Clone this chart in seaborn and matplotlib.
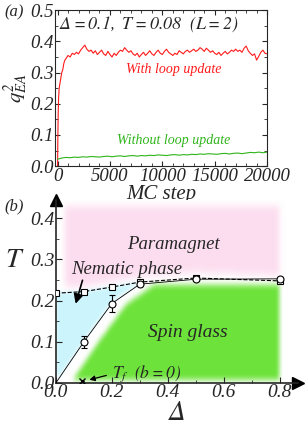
import numpy as np
import matplotlib
matplotlib.use("Agg")
import matplotlib.pyplot as plt
import seaborn as sns
from matplotlib.ticker import MultipleLocator

# ---------- data ----------
# (a) q_EA^2 vs MC step
red_early_steps = [0, 30, 60, 100, 150, 200, 300, 400, 500, 600, 700, 800, 900]
red_early_q2 = [0.0, 0.10, 0.17, 0.22, 0.25, 0.26, 0.28, 0.30, 0.31, 0.33, 0.34, 0.345, 0.35]
# every 200 steps from 1000 to 20000
red_q2 = [0.355, 0.350, 0.362, 0.358, 0.365,
          0.360, 0.372, 0.380, 0.388, 0.375,
          0.368, 0.372, 0.362, 0.370, 0.358,
          0.365, 0.372, 0.360, 0.355, 0.368,
          0.358, 0.350, 0.362, 0.355, 0.365,
          0.372, 0.368, 0.380, 0.372, 0.365,
          0.370, 0.360, 0.355, 0.362, 0.350,
          0.358, 0.365, 0.355, 0.362, 0.370,
          0.360, 0.355, 0.365, 0.372, 0.362,
          0.358, 0.368, 0.375, 0.365, 0.360,
          0.355, 0.362, 0.358, 0.370, 0.365,
          0.360, 0.368, 0.372, 0.365, 0.370,
          0.375, 0.368, 0.372, 0.380, 0.375,
          0.368, 0.378, 0.372, 0.365, 0.370,
          0.362, 0.358, 0.365, 0.355, 0.362,
          0.368, 0.360, 0.365, 0.372, 0.368,
          0.375, 0.368, 0.372, 0.365, 0.378,
          0.385, 0.370, 0.362, 0.355, 0.360,
          0.340, 0.352, 0.365, 0.372, 0.362,
          0.360]
# every 400 steps from 0 to 20000
green_q2 = [0.022, 0.026, 0.028, 0.027, 0.029,
            0.028, 0.030, 0.029, 0.031, 0.030,
            0.029, 0.031, 0.032, 0.030, 0.032,
            0.033, 0.031, 0.033, 0.034, 0.032,
            0.034, 0.033, 0.035, 0.034, 0.036,
            0.035, 0.034, 0.036, 0.037, 0.035,
            0.037, 0.036, 0.038, 0.037, 0.039,
            0.038, 0.040, 0.039, 0.038, 0.040,
            0.041, 0.039, 0.041, 0.042, 0.040,
            0.042, 0.044, 0.043, 0.045, 0.043,
            0.045]

# (b) phase diagram
delta = [0.0, 0.1, 0.2, 0.3, 0.5, 0.8]
t_square = [0.218, 0.222, 0.233, 0.245, 0.255, 0.248]
t_circle = [0.0, 0.100, 0.193, 0.240, 0.252, 0.253]
t_circle_err = [0.0, 0.015, 0.020, 0.005, 0.004, 0.004]
tf_delta = [0.095]
tf_T = [0.004]

red_steps = red_early_steps + list(range(1000, 20001, 200))
red_all = red_early_q2 + red_q2
green_steps = list(range(0, 20001, 400))

# ---------- style ----------
sns.set_style("ticks")
plt.rcParams["font.family"] = ["Liberation Serif", "DejaVu Serif"]
plt.rcParams["font.style"] = "italic"
plt.rcParams["mathtext.fontset"] = "stix"
plt.rcParams["xtick.direction"] = "in"
plt.rcParams["ytick.direction"] = "in"

fig = plt.figure(figsize=(3.07, 4.26), dpi=100)

# ---------- (a) ----------
ax1 = fig.add_axes([0.179, 0.610, 0.691, 0.366])
sns.lineplot(x=red_steps, y=red_all, color="#ff1a1a", lw=0.8, ax=ax1, sort=False)
sns.lineplot(x=green_steps, y=green_q2, color="#2fb51a", lw=0.8, ax=ax1, sort=False)
ax1.set_xlim(-250, 20000)
ax1.set_ylim(0, 0.5)
ax1.xaxis.set_major_locator(MultipleLocator(5000))
ax1.xaxis.set_minor_locator(MultipleLocator(1000))
ax1.yaxis.set_major_locator(MultipleLocator(0.1))
ax1.yaxis.set_minor_locator(MultipleLocator(0.05))
ax1.tick_params(which="both", top=True, right=True, labelsize=13.5, pad=1)
ax1.tick_params(which="major", length=3.5)
ax1.tick_params(which="minor", length=2)
ax1.set_xlabel("MC step", fontsize=15, labelpad=0)
ax1.set_ylabel(r"$q^2_{EA}$", fontsize=15, labelpad=0)
ax1.text(0.02, 0.975, r"$\Delta=0.1,\ T=0.08\ \ (L=2)$", transform=ax1.transAxes,
         fontsize=13, va="top", ha="left")
ax1.text(0.56, 0.60, "With loop update", transform=ax1.transAxes,
         color="#ff1a1a", fontsize=10, ha="center")
ax1.text(0.56, 0.14, "Without loop update", transform=ax1.transAxes,
         color="#2fb51a", fontsize=10, ha="center")
for s in ax1.spines.values():
    s.set_linewidth(0.8)
fig.text(0.015, 0.962, "(a)", fontsize=12)

# ---------- (b) ----------
ax2 = fig.add_axes([0.182, 0.101, 0.788, 0.430])
xmax, ymax = 0.865, 0.445

# blurred phase regions
gx = np.linspace(0, xmax, 350)
gy = np.linspace(0, ymax, 180)
X, Y = np.meshgrid(gx, gy)
solid = np.interp(X, delta, t_circle)
solid_shift = np.interp(X - 0.05, delta, t_circle)
dashed = np.interp(X, delta, t_square)
pink = ((Y > dashed + 0.012) & (Y < 0.43) & (X > 0.03) & (X < 0.80)).astype(float)
green = ((Y < solid_shift - 0.003) & (Y < 0.237) & (Y > 0.005) & (X < 0.80)).astype(float)
cyan = ((Y > solid + 0.004) & (Y < dashed) & (X < 0.3) & (Y > 0.015)).astype(float)


def blur(a, n):
    k = np.ones(n) / n
    a = np.apply_along_axis(lambda r: np.convolve(r, k, mode="same"), 1, a)
    a = np.apply_along_axis(lambda c: np.convolve(c, k, mode="same"), 0, a)
    return a


pink = blur(blur(pink, 9), 9)
green = blur(blur(green, 7), 7)
cyan = blur(blur(cyan, 5), 5)

img = np.ones(X.shape + (3,))
for w, c in [(pink, (0.99, 0.87, 0.94)), (cyan, (0.80, 0.96, 0.99)), (green, (0.43, 0.89, 0.23))]:
    img = img * (1 - w[..., None]) + np.array(c) * w[..., None]
ax2.imshow(img, extent=[0, xmax, 0, ymax], origin="lower", aspect="auto",
           interpolation="bilinear", zorder=0)

sns.lineplot(x=delta, y=t_square, color="k", lw=0.8, ls="--", marker="s", ms=4.5,
             mfc="white", mec="k", mew=0.8, ax=ax2, sort=False, zorder=3)
sns.lineplot(x=delta, y=t_circle, color="k", lw=0.6, ax=ax2, sort=False, zorder=3)
ax2.errorbar(delta[1:], t_circle[1:], yerr=t_circle_err[1:], fmt="o", ms=5,
             mfc="white", mec="k", mew=0.8, ecolor="k", elinewidth=0.8,
             capsize=2.5, zorder=4)
ax2.plot(tf_delta, tf_T, "x", color="k", ms=5, mew=1, zorder=4)

ax2.set_xlim(0, xmax)
ax2.set_ylim(0, ymax)
ax2.xaxis.set_major_locator(MultipleLocator(0.2))
ax2.xaxis.set_minor_locator(MultipleLocator(0.1))
ax2.yaxis.set_major_locator(MultipleLocator(0.1))
ax2.yaxis.set_minor_locator(MultipleLocator(0.05))
ax2.tick_params(which="both", labelsize=14, pad=1)
ax2.tick_params(which="major", length=4)
ax2.tick_params(which="minor", length=2.5)
ax2.spines["top"].set_visible(False)
ax2.spines["right"].set_visible(False)
ax2.spines["left"].set_linewidth(1.2)
ax2.spines["bottom"].set_linewidth(1.2)
ax2.plot(1, 0, ">k", ms=8, transform=ax2.get_yaxis_transform(), clip_on=False)
ax2.plot(0, 1, "^k", ms=8, transform=ax2.get_xaxis_transform(), clip_on=False)
ax2.set_xlabel(r"$\Delta$", fontsize=20, labelpad=0)
ax2.set_ylabel(r"$T$", fontsize=20, rotation=0)
ax2.yaxis.set_label_coords(-0.17, 0.60)

ax2.text(0.42, 0.337, "Paramagnet", fontsize=13.5, ha="center", va="center", zorder=5)
ax2.text(0.255, 0.275, "Nematic phase", fontsize=13.5, ha="center", va="center", zorder=5)
ax2.text(0.47, 0.122, "Spin glass", fontsize=14, ha="center", va="center", zorder=5)
ax2.text(0.2, 0.022, r"$T_{\rm f}\ \ (b=0)$", fontsize=12.5, ha="left", va="center", zorder=5)
ax2.annotate("", xy=(0.068, 0.186), xytext=(0.098, 0.256),
             arrowprops=dict(arrowstyle="-|>", color="k", lw=1.2, mutation_scale=14), zorder=5)
ax2.annotate("", xy=(0.11, 0.006), xytext=(0.19, 0.02),
             arrowprops=dict(arrowstyle="-|>", color="k", lw=0.9, mutation_scale=8), zorder=5)
fig.text(0.015, 0.505, "(b)", fontsize=12)

plt.savefig("out.png", dpi=100)
